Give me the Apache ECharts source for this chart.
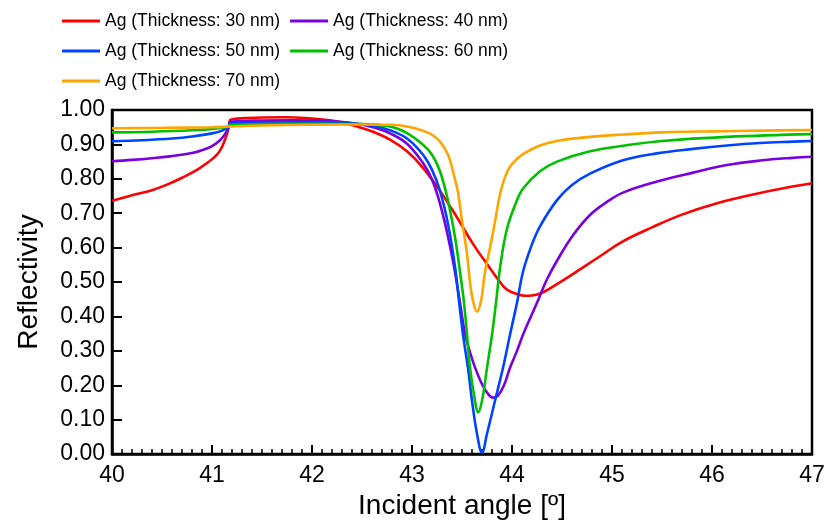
<!DOCTYPE html>
<html>
<head>
<meta charset="utf-8">
<script src="https://cdn.jsdelivr.net/npm/echarts@6/dist/echarts.min.js"></script>
<style>
  html, body { margin: 0; padding: 0; background: #fff; }
  #chart { width: 828px; height: 525px; }
</style>
</head>
<body>
<div id="chart"></div>
<script>
// Reflectivity vs incident angle
const names = [
  'Ag (Thickness: 30 nm)',
  'Ag (Thickness: 40 nm)',
  'Ag (Thickness: 50 nm)',
  'Ag (Thickness: 60 nm)',
  'Ag (Thickness: 70 nm)'
];
const colors = ['#ff0000', '#7a00e0', '#0044ff', '#00c000', '#ffa500'];

const angle30 = [40, 40.2, 40.4, 40.55, 40.7, 40.85, 40.96, 41.05, 41.1, 41.14, 41.17, 41.18, 41.25, 41.5, 41.75, 42, 42.15, 42.28, 42.45, 42.61, 42.78, 42.95, 43.11, 43.28, 43.45, 43.61, 43.78, 43.88, 43.95, 44.05, 44.13, 44.2, 44.3, 44.45, 44.55, 44.68, 44.78, 44.88, 45.1, 45.4, 45.7, 46.05, 46.4, 46.7, 47];
const refl30 = [0.736, 0.752, 0.767, 0.783, 0.803, 0.826, 0.848, 0.870, 0.893, 0.922, 0.952, 0.970, 0.975, 0.978, 0.979, 0.975, 0.971, 0.965, 0.952, 0.937, 0.914, 0.880, 0.832, 0.765, 0.688, 0.611, 0.540, 0.500, 0.478, 0.465, 0.460, 0.461, 0.469, 0.494, 0.512, 0.537, 0.556, 0.575, 0.617, 0.659, 0.696, 0.729, 0.754, 0.772, 0.787];

const angle40 = [40, 40.2, 40.4, 40.6, 40.8, 40.9, 41, 41.08, 41.13, 41.17, 41.18, 41.4, 41.8, 42.1, 42.28, 42.45, 42.61, 42.78, 42.95, 43.11, 43.2, 43.28, 43.36, 43.42, 43.48, 43.53, 43.58, 43.63, 43.7, 43.76, 43.81, 43.86, 43.92, 43.98, 44.05, 44.11, 44.25, 44.35, 44.45, 44.61, 44.78, 44.95, 45.11, 45.45, 45.81, 46.15, 46.48, 46.81, 47];
const refl40 = [0.851, 0.855, 0.860, 0.866, 0.875, 0.883, 0.895, 0.912, 0.930, 0.952, 0.965, 0.969, 0.970, 0.969, 0.966, 0.960, 0.950, 0.932, 0.902, 0.846, 0.798, 0.728, 0.632, 0.545, 0.440, 0.350, 0.296, 0.252, 0.203, 0.175, 0.164, 0.170, 0.200, 0.251, 0.300, 0.347, 0.440, 0.508, 0.562, 0.636, 0.695, 0.733, 0.760, 0.792, 0.818, 0.840, 0.853, 0.861, 0.864];

const angle50 = [40, 40.3, 40.6, 40.8, 41, 41.1, 41.17, 41.18, 41.5, 42, 42.28, 42.45, 42.61, 42.78, 42.95, 43.11, 43.2, 43.28, 43.36, 43.43, 43.47, 43.51, 43.56, 43.6, 43.65, 43.7, 43.75, 43.83, 43.91, 43.98, 44.05, 44.11, 44.2, 44.28, 44.45, 44.6, 44.78, 45.11, 45.45, 45.81, 46.15, 46.48, 46.81, 47];
const refl50 = [0.909, 0.912, 0.917, 0.923, 0.932, 0.940, 0.952, 0.961, 0.964, 0.965, 0.964, 0.960, 0.954, 0.941, 0.917, 0.870, 0.826, 0.765, 0.669, 0.545, 0.445, 0.347, 0.250, 0.155, 0.059, 0.004, 0.059, 0.155, 0.251, 0.347, 0.440, 0.530, 0.610, 0.662, 0.738, 0.782, 0.815, 0.854, 0.874, 0.887, 0.897, 0.904, 0.908, 0.910];

const angle60 = [40, 40.4, 40.8, 41, 41.17, 41.18, 41.5, 42, 42.5, 42.78, 42.95, 43.11, 43.2, 43.28, 43.36, 43.43, 43.48, 43.52, 43.55, 43.58, 43.63, 43.66, 43.7, 43.75, 43.8, 43.84, 43.88, 43.95, 44.05, 44.11, 44.28, 44.45, 44.78, 45.11, 45.5, 46.15, 47];
const refl60 = [0.935, 0.937, 0.941, 0.945, 0.952, 0.957, 0.959, 0.960, 0.959, 0.952, 0.933, 0.899, 0.870, 0.822, 0.736, 0.630, 0.530, 0.440, 0.347, 0.251, 0.155, 0.121, 0.155, 0.251, 0.347, 0.440, 0.540, 0.655, 0.738, 0.772, 0.822, 0.850, 0.880, 0.896, 0.910, 0.922, 0.930];

const angle70 = [40, 40.5, 41, 41.17, 41.5, 42, 42.5, 42.8, 42.95, 43.11, 43.2, 43.28, 43.36, 43.42, 43.46, 43.5, 43.55, 43.58, 43.61, 43.65, 43.69, 43.73, 43.78, 43.83, 43.88, 43.93, 43.98, 44.05, 44.11, 44.28, 44.45, 44.78, 45.11, 45.5, 46, 46.5, 47];
const refl70 = [0.947, 0.948, 0.950, 0.952, 0.955, 0.957, 0.958, 0.957, 0.952, 0.940, 0.928, 0.908, 0.870, 0.810, 0.760, 0.678, 0.582, 0.500, 0.445, 0.414, 0.445, 0.530, 0.600, 0.675, 0.755, 0.805, 0.835, 0.858, 0.872, 0.897, 0.910, 0.922, 0.929, 0.935, 0.938, 0.940, 0.942];

const angles = [angle30, angle40, angle50, angle60, angle70];
const refls = [refl30, refl40, refl50, refl60, refl70];

const chart = echarts.init(document.getElementById('chart'), null, { renderer: 'canvas' });

const font = 'Liberation Sans, Arial, sans-serif';

const series = names.map((name, i) => ({
  name: name,
  type: 'line',
  data: angles[i].map((a, j) => [a, refls[i][j]]),
  showSymbol: false,
  symbol: 'none',
  smooth: 0.4,
  lineStyle: { color: colors[i], width: 2.6 },
  itemStyle: { color: colors[i] },
  z: 2 + i
}));

const option = {
  animation: false,
  backgroundColor: '#fff',
  color: colors,
  grid: {
    left: 112,
    right: 16,
    top: 110,
    bottom: 68,
    show: true,
    borderColor: '#000',
    borderWidth: 2.5,
    backgroundColor: 'transparent'
  },
  legend: {
    left: 57,
    top: 6,
    width: 480,
    icon: 'rect',
    itemWidth: 38,
    itemHeight: 3,
    itemGap: 10,
    textStyle: {
      fontFamily: font,
      fontSize: 17.5,
      lineHeight: 20,
      color: '#000'
    },
    data: names
  },
  xAxis: {
    type: 'value',
    min: 40,
    max: 47,
    interval: 1,
    name: 'Incident angle [º]',
    nameLocation: 'middle',
    nameGap: 34,
    nameTextStyle: { fontFamily: font, fontSize: 28, color: '#000' },
    axisLine: { show: true, lineStyle: { color: '#000', width: 2.5 } },
    axisTick: { show: true, inside: true, length: 9, lineStyle: { color: '#000', width: 2 } },
    minorTick: { show: true, splitNumber: 10, length: 5, lineStyle: { color: '#000', width: 1.5 } },
    axisLabel: { fontFamily: font, fontSize: 23, color: '#000', margin: 10 },
    splitLine: { show: false }
  },
  yAxis: {
    type: 'value',
    min: 0,
    max: 1,
    interval: 0.1,
    name: 'Reflectivity',
    nameLocation: 'middle',
    nameGap: 69,
    nameTextStyle: { fontFamily: font, fontSize: 28, color: '#000' },
    axisLine: { show: true, lineStyle: { color: '#000', width: 2.5 } },
    axisTick: { show: true, inside: true, length: 10, lineStyle: { color: '#000', width: 2 } },
    axisLabel: {
      fontFamily: font,
      fontSize: 23,
      color: '#000',
      margin: 7,
      formatter: v => v.toFixed(2)
    },
    splitLine: { show: false }
  },
  series: series
};

chart.setOption(option);
</script>
</body>
</html>
